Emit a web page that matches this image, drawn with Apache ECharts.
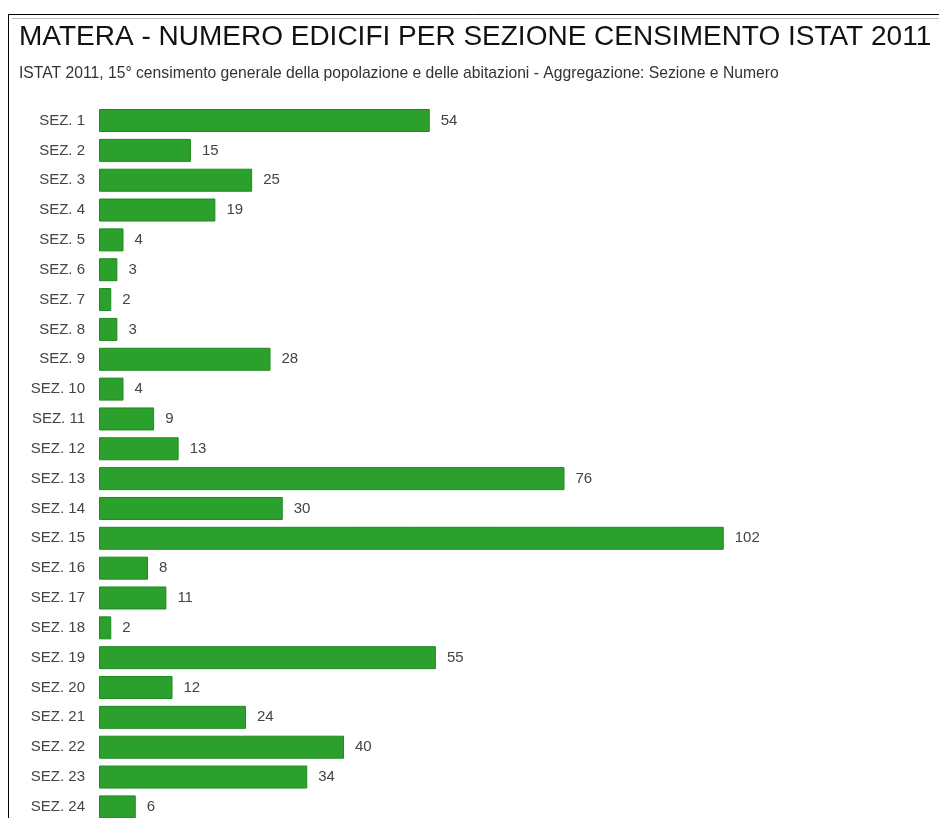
<!DOCTYPE html>
<html>
<head>
<meta charset="utf-8">
<script src="https://cdn.jsdelivr.net/npm/echarts@6/dist/echarts.min.js"></script>
<style>
  html, body { margin: 0; padding: 0; background: #fff; }
  #chart { width: 939px; height: 818px; }
</style>
</head>
<body>
<div id="chart"></div>
<script>
  // sezioni censuarie e numero di edifici
  var sezioni = ['SEZ. 1', 'SEZ. 2', 'SEZ. 3', 'SEZ. 4', 'SEZ. 5', 'SEZ. 6', 'SEZ. 7', 'SEZ. 8',
    'SEZ. 9', 'SEZ. 10', 'SEZ. 11', 'SEZ. 12', 'SEZ. 13', 'SEZ. 14', 'SEZ. 15', 'SEZ. 16',
    'SEZ. 17', 'SEZ. 18', 'SEZ. 19', 'SEZ. 20', 'SEZ. 21', 'SEZ. 22', 'SEZ. 23', 'SEZ. 24'];
  var edifici = [54, 15, 25, 19, 4, 3, 2, 3, 28, 4, 9, 13, 76, 30, 102, 8, 11, 2, 55, 12, 24, 40, 34, 6];

  var titolo = 'MATERA - NUMERO EDICIFI PER SEZIONE CENSIMENTO ISTAT 2011';
  var sottotitolo = 'ISTAT 2011, 15° censimento generale della popolazione e delle abitazioni - Aggregazione: Sezione e Numero';

  var myChart = echarts.init(document.getElementById('chart'));
  var option = {
    animation: false,
    textStyle: { fontFamily: 'Liberation Sans, Arial, sans-serif' },
    graphic: [
      { type: 'line', shape: { x1: 8, y1: 14.5, x2: 939, y2: 14.5 }, style: { stroke: '#000', lineWidth: 1 } },
      { type: 'line', shape: { x1: 8.5, y1: 14, x2: 8.5, y2: 818 }, style: { stroke: '#000', lineWidth: 1 } },
      { type: 'line', shape: { x1: 12, y1: 18.5, x2: 939, y2: 18.5 }, style: { stroke: '#bbb', lineWidth: 1 } },
      { type: 'text', left: 19, top: 23, style: { text: titolo, fontSize: 28, fill: '#111', fontFamily: 'Liberation Sans, Arial, sans-serif' } },
      { type: 'text', left: 19, top: 66, style: { text: sottotitolo, fontSize: 15.7, fill: '#333', fontFamily: 'Liberation Sans, Arial, sans-serif' } }
    ],
    grid: { left: 99, top: 105.6, width: 735, height: 716.2, outerBoundsMode: 'none' },
    xAxis: {
      type: 'value',
      min: 0,
      max: 120,
      show: false
    },
    yAxis: {
      type: 'category',
      inverse: true,
      data: sezioni,
      axisLine: { show: false },
      axisTick: { show: false },
      axisLabel: { color: '#444', fontSize: 15, margin: 14, padding: [4, 0, 0, 0] }
    },
    series: [{
      type: 'bar',
      data: edifici,
      barWidth: 23,
      itemStyle: { color: '#2ca02c', borderColor: '#1f8a1f', borderWidth: 1 },
      label: { show: true, position: 'right', distance: 11, color: '#444', fontSize: 15, padding: [4, 0, 0, 0] }
    }]
  };
  myChart.setOption(option);
</script>
</body>
</html>
